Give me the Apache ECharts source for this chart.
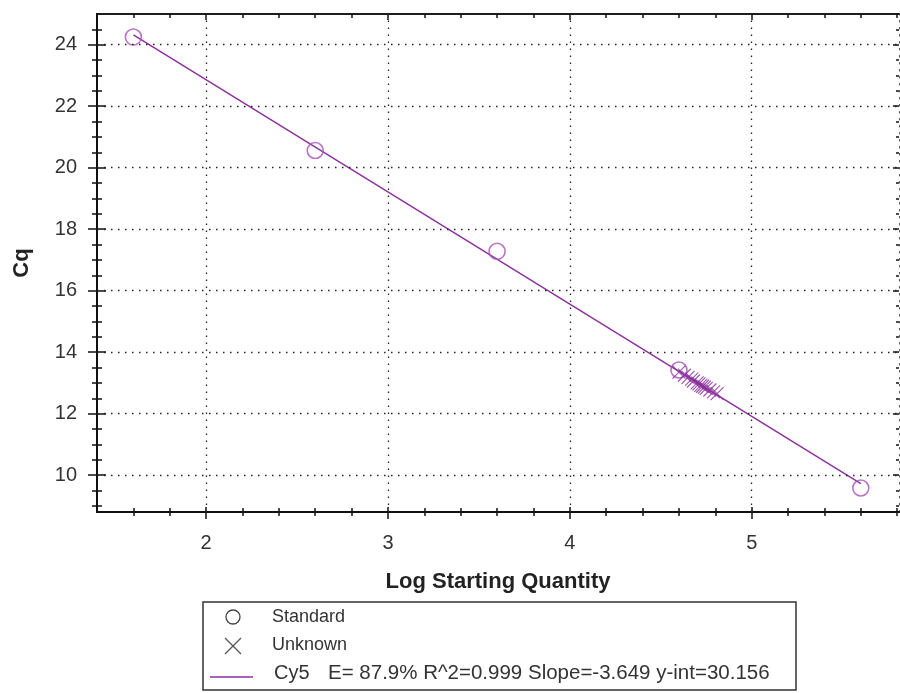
<!DOCTYPE html>
<html><head><meta charset="utf-8">
<script src="https://cdn.jsdelivr.net/npm/echarts@6/dist/echarts.min.js"></script>
<style>html,body{margin:0;padding:0;background:#fff}#c{width:900px;height:693px}</style>
</head><body><div id="c"></div>
<script>
// ---- data ----
const stdX = [1.6, 2.6, 3.6, 4.6, 5.6];
const stdCq = [24.25, 20.56, 17.28, 13.42, 9.58];
const unkX = [4.60, 4.63, 4.65, 4.67, 4.68, 4.70, 4.71, 4.72, 4.73, 4.74, 4.75, 4.77, 4.79, 4.81];
const unkCq = [13.35, 13.25, 13.18, 13.12, 13.06, 13.00, 12.97, 12.92, 12.89, 12.86, 12.82, 12.77, 12.71, 12.65];
const fitX = [1.6, 5.6];
const fitCq = [24.32, 9.72];
const xMajorTicks = [2, 3, 4, 5];
const xMinorTicks = [1.6, 1.8, 2.2, 2.4, 2.6, 2.8, 3.2, 3.4, 3.6, 3.8, 4.2, 4.4, 4.6, 4.8, 5.2, 5.4, 5.6, 5.8];
const yMajorTicks = [10, 12, 14, 16, 18, 20, 22, 24];
const yMinorTicks = [9, 9.5, 10.5, 11, 11.5, 12.5, 13, 13.5, 14.5, 15, 15.5, 16.5, 17, 17.5, 18.5, 19, 19.5, 20.5, 21, 21.5, 22.5, 23, 23.5, 24.5];
const legendTexts = ['Standard', 'Unknown', 'Cy5', 'E= 87.9% R^2=0.999 Slope=-3.649 y-int=30.156'];
const xName = 'Log Starting Quantity';
const yName = 'Cq';

const X_MIN = 1.4, X_MAX = 5.81, Y_MIN = 8.8, Y_MAX = 25;
const FONT = '"Liberation Sans", Arial, sans-serif';
const LINE_COLOR = '#8a2f9b';
const CIRCLE_COLOR = '#a653b8';

function mkAxis(dim, pos, ticks, len, inside, extra) {
  return Object.assign({
    type: 'value',
    min: dim === 'x' ? X_MIN : Y_MIN,
    max: dim === 'x' ? X_MAX : Y_MAX,
    position: pos,
    axisLine: { show: true, onZero: false, lineStyle: { color: '#111', width: 1.5 } },
    axisTick: { show: true, inside: inside, length: len, customValues: ticks, lineStyle: { color: '#111', width: 1.5 } },
    axisLabel: { show: false },
    splitLine: { show: false },
    silent: true
  }, extra || {});
}

const xAxes = [
  mkAxis('x', 'bottom', xMajorTicks, 7, false, {
    axisLabel: { show: true, customValues: xMajorTicks, margin: 21, fontSize: 20, color: '#333', fontFamily: FONT },
    name: xName, nameLocation: 'middle', nameGap: 59,
    nameTextStyle: { fontSize: 22, fontWeight: 'bold', color: '#222', fontFamily: FONT }
  }),
  mkAxis('x', 'bottom', xMajorTicks, 5, true),
  mkAxis('x', 'bottom', xMinorTicks, 4, false),
  mkAxis('x', 'bottom', xMinorTicks, 4, true),
  mkAxis('x', 'top', xMajorTicks, 6, true),
  mkAxis('x', 'top', xMinorTicks, 4, true)
];
const yAxes = [
  mkAxis('y', 'left', yMajorTicks, 9, false, {
    axisLabel: { show: true, customValues: yMajorTicks, margin: 20, fontSize: 20, color: '#333', fontFamily: FONT },
    name: yName, nameLocation: 'middle', nameGap: 64,
    nameTextStyle: { fontSize: 22, fontWeight: 'bold', color: '#222', fontFamily: FONT }
  }),
  mkAxis('y', 'left', yMajorTicks, 9, true),
  mkAxis('y', 'left', yMinorTicks, 5, false),
  mkAxis('y', 'left', yMinorTicks, 5, true),
  mkAxis('y', 'right', yMajorTicks, 6, true, { axisLine: { show: true, onZero: false, lineStyle: { color: '#555', width: 1, type: [1.5, 5.5] } } }),
  mkAxis('y', 'right', yMinorTicks, 3, true, { axisLine: { show: false } })
];

const fitData = fitX.map((x, i) => [x, fitCq[i]]);
const stdData = stdX.map((x, i) => [x, stdCq[i]]);
const unkData = unkX.map((x, i) => [x, unkCq[i]]);

const gridLines = xMajorTicks.map(v => ({ xAxis: v })).concat(yMajorTicks.map(v => ({ yAxis: v })));

const chart = echarts.init(document.getElementById('c'), null, { renderer: 'canvas' });
chart.setOption({
  animation: false,
  backgroundColor: '#fff',
  textStyle: { fontFamily: FONT },
  grid: { left: 97, top: 14, right: 1, bottom: 181, containLabel: false },
  xAxis: xAxes,
  yAxis: yAxes,
  series: [
    {
      type: 'line', data: [], z: 1, silent: true,
      markLine: {
        silent: true, symbol: 'none', animation: false,
        label: { show: false },
        lineStyle: { color: '#222', width: 1.3, type: [1.5, 5.5] },
        emphasis: { disabled: true },
        data: gridLines
      }
    },
    {
      type: 'line', data: fitData, z: 3, showSymbol: false, silent: true,
      lineStyle: { color: LINE_COLOR, width: 1.4 }
    },
    {
      type: 'scatter', data: stdData, z: 4, symbol: 'circle', symbolSize: 16, silent: true,
      itemStyle: { color: 'rgba(0,0,0,0)', borderColor: CIRCLE_COLOR, borderWidth: 1.6 }
    },
    {
      type: 'scatter', data: unkData, z: 4, silent: true,
      symbol: 'path://M0,0L10,10M10,0L0,10', symbolSize: 13,
      itemStyle: { color: 'rgba(0,0,0,0)', borderColor: LINE_COLOR, borderWidth: 1.2 }
    }
  ],
  graphic: [
    { type: 'rect', shape: { x: 203, y: 602, width: 593, height: 88 }, style: { fill: '#fff', stroke: '#333', lineWidth: 1.5 }, z: 10 },
    { type: 'circle', shape: { cx: 233, cy: 617, r: 7 }, style: { fill: 'none', stroke: '#444', lineWidth: 1.3 }, z: 11 },
    { type: 'line', shape: { x1: 225, y1: 638, x2: 241, y2: 654 }, style: { stroke: '#555', lineWidth: 1.3 }, z: 11 },
    { type: 'line', shape: { x1: 241, y1: 638, x2: 225, y2: 654 }, style: { stroke: '#555', lineWidth: 1.3 }, z: 11 },
    { type: 'line', shape: { x1: 210, y1: 677, x2: 253, y2: 677 }, style: { stroke: LINE_COLOR, lineWidth: 1.5 }, z: 11 },
    { type: 'text', x: 272, y: 617, style: { text: legendTexts[0], font: '18px ' + FONT, fill: '#333', verticalAlign: 'middle' }, z: 11 },
    { type: 'text', x: 272, y: 645, style: { text: legendTexts[1], font: '18px ' + FONT, fill: '#333', verticalAlign: 'middle' }, z: 11 },
    { type: 'text', x: 274, y: 673, style: { text: legendTexts[2], font: '20px ' + FONT, fill: '#333', verticalAlign: 'middle' }, z: 11 },
    { type: 'text', x: 328, y: 673, style: { text: legendTexts[3], font: '20.5px ' + FONT, fill: '#333', verticalAlign: 'middle' }, z: 11 }
  ]
});
</script>
</body></html>
